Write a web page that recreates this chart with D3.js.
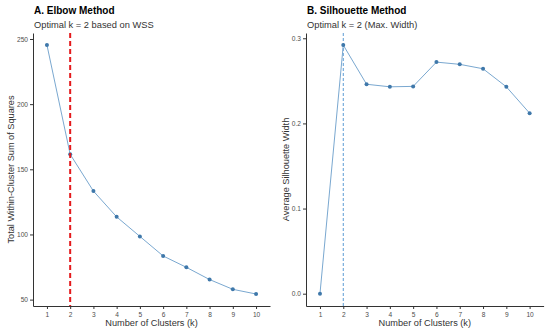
<!DOCTYPE html>
<html>
<head>
<meta charset="utf-8">
<script src="https://cdn.jsdelivr.net/npm/d3@7"></script>
<style>
  body { margin: 0; background: #fff; }
  svg { font-family: "Liberation Sans", Arial, sans-serif; }
  .axis path, .axis line { stroke: #333; }
  .axis text { fill: #4d4d4d; font-size: 6.6px; }
</style>
</head>
<body>
<script>
var clusters = [1, 2, 3, 4, 5, 6, 7, 8, 9, 10];
var wss = [245.4, 161.5, 133.3, 113.5, 98.5, 83.5, 74.8, 65.4, 57.9, 54.3];
var silhouette = [0.0, 0.292, 0.246, 0.243, 0.2435, 0.272, 0.2694, 0.2642, 0.243, 0.212];
var wssTicks = [50, 100, 150, 200, 250];
var silTicks = [0.0, 0.1, 0.2, 0.3];
var optimalK = 2;

var WIDTH = 550, HEIGHT = 335;

var svg = d3.select('body').append('svg')
  .attr('width', WIDTH)
  .attr('height', HEIGHT);

var panels = [
  {
    title: 'A. Elbow Method', subtitle: 'Optimal k = 2 based on WSS',
    ylabel: 'Total Within-Cluster Sum of Squares',
    values: wss, ticks: wssTicks, fmt: d3.format('d'),
    left: 33, right: 270, ydomain: [45.1, 254.6], labelX: 11,
    vline: {color: '#e41a1c', width: 2, dash: '5,3'}, vlineOnTop: true
  },
  {
    title: 'B. Silhouette Method', subtitle: 'Optimal k = 2 (Max. Width)',
    ylabel: 'Average Silhouette Width',
    values: silhouette, ticks: silTicks, fmt: d3.format('.1f'),
    left: 306, right: 543.6, ydomain: [-0.01445, 0.3062], labelX: 286,
    vline: {color: '#5b9bd5', width: 1, dash: '3,2'}, vlineOnTop: false
  }
];

var TOP = 33, BOTTOM = 306;

panels.forEach(function (p) {
  var x = d3.scaleLinear().domain([0.4, 10.6]).range([p.left, p.right]);
  var y = d3.scaleLinear().domain(p.ydomain).range([BOTTOM, TOP]);
  var g = svg.append('g');

  var drawVline = function () {
    g.append('line')
      .attr('x1', x(optimalK)).attr('x2', x(optimalK))
      .attr('y1', TOP).attr('y2', BOTTOM)
      .attr('stroke', p.vline.color)
      .attr('stroke-width', p.vline.width)
      .attr('stroke-dasharray', p.vline.dash);
  };

  if (!p.vlineOnTop) drawVline();

  var line = d3.line()
    .x(function (d, i) { return x(clusters[i]); })
    .y(function (d) { return y(d); });

  g.append('path')
    .attr('d', line(p.values))
    .attr('fill', 'none')
    .attr('stroke', '#7aa8d0')
    .attr('stroke-width', 1);

  g.selectAll('circle')
    .data(p.values)
    .enter()
    .append('circle')
    .attr('cx', function (d, i) { return x(clusters[i]); })
    .attr('cy', function (d) { return y(d); })
    .attr('r', 2)
    .attr('fill', '#3f78aa');

  if (p.vlineOnTop) drawVline();

  g.append('g')
    .attr('class', 'axis')
    .attr('transform', 'translate(0,' + BOTTOM + ')')
    .call(d3.axisBottom(x).tickValues(clusters).tickSize(3).tickSizeOuter(0).tickPadding(3));

  g.append('g')
    .attr('class', 'axis')
    .attr('transform', 'translate(' + p.left + ',0)')
    .call(d3.axisLeft(y).tickValues(p.ticks).tickFormat(p.fmt).tickSize(3).tickSizeOuter(0).tickPadding(2));

  g.append('text')
    .attr('x', p.left + 1).attr('y', 14)
    .attr('font-size', '10px').attr('font-weight', 'bold')
    .attr('fill', '#000')
    .text(p.title);

  g.append('text')
    .attr('x', p.left + 1).attr('y', 27.5)
    .attr('font-size', '9.3px')
    .attr('fill', '#333')
    .text(p.subtitle);

  g.append('text')
    .attr('x', (p.left + p.right) / 2).attr('y', 326)
    .attr('text-anchor', 'middle')
    .attr('font-size', '9.2px')
    .attr('fill', '#333')
    .text('Number of Clusters (k)');

  g.append('text')
    .attr('transform', 'translate(' + p.labelX + ',' + ((TOP + BOTTOM) / 2) + ') rotate(-90)')
    .attr('text-anchor', 'middle')
    .attr('dy', '0.35em')
    .attr('font-size', '9.2px')
    .attr('fill', '#333')
    .text(p.ylabel);
});
</script>
</body>
</html>
